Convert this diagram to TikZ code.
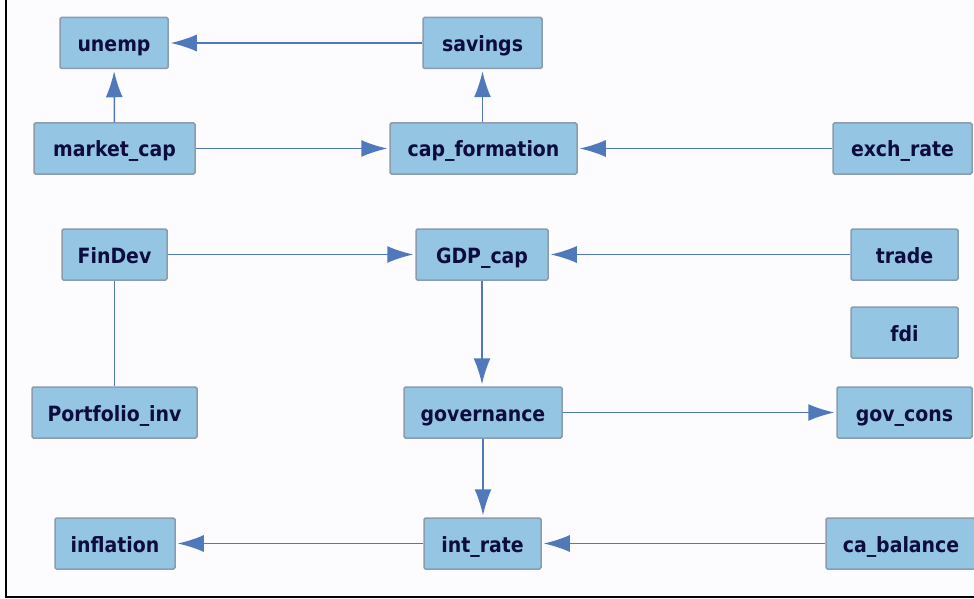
\documentclass[tikz,border=0pt]{standalone}
\usepackage{fontspec}
\newfontfamily\nodefont{DejaVu Sans Condensed}[BoldFont={* Bold}]
\usetikzlibrary{arrows.meta}
\definecolor{bgc}{HTML}{FCFCFE}
\definecolor{nfill}{HTML}{94C6E3}
\definecolor{nedge}{HTML}{8C9CAC}
\definecolor{lnc}{HTML}{5079BB}
\definecolor{txc}{HTML}{0C0C3E}
\tikzset{
  box/.style={draw=nedge, line width=1.5pt, fill=nfill, rounded corners=1.5pt,
    minimum height=51pt, inner sep=0pt, text height=20pt, text depth=3pt,
    text=txc, font=\nodefont\bfseries\fontsize{21}{22}\selectfont},
  arr/.style={draw=lnc, line width=1.5pt, -{Latex[length=26pt,width=17pt]}, shorten >=2pt},
  lnk/.style={draw=lnc, line width=1.5pt}
}
\begin{document}
\begin{tikzpicture}[x=1pt,y=-1pt]
\fill[bgc] (0,0) rectangle (974,599);
\useasboundingbox (0,0) rectangle (974,599);
\draw[black, line width=2pt] (6,0) -- (6,597) -- (974,597);
\node[box, minimum width=108pt] (unemp) at (114,43) {unemp};
\node[box, minimum width=119pt] (savings) at (482.5,43) {savings};
\node[box, minimum width=161pt] (market) at (114.5,148.5) {market\_cap};
\node[box, minimum width=187pt] (capf) at (483.5,148.5) {cap\_formation};
\node[box, minimum width=139pt] (exch) at (902.5,148.5) {exch\_rate};
\node[box, minimum width=105pt] (findev) at (114.5,254.5) {FinDev};
\node[box, minimum width=132pt] (gdp) at (482,254.5) {GDP\_cap};
\node[box, minimum width=107pt] (trade) at (904.5,254.5) {trade};
\node[box, minimum width=107pt] (fdi) at (904.5,332.5) {fdi};
\node[box, minimum width=165pt] (port) at (114.5,412.5) {Portfolio\_inv};
\node[box, minimum width=158pt] (gov) at (483,412.5) {governance};
\node[box, minimum width=135pt] (govc) at (904.5,412.5) {gov\_cons};
\node[box, minimum width=120pt] (infl) at (115,543.5) {inflation};
\node[box, minimum width=117pt] (intr) at (482.5,543.5) {int\_rate};
\node[box, minimum width=150pt] (cab) at (901,543.5) {ca\_balance};
\draw[arr] (savings) -- (unemp);
\draw[arr] (market) -- (unemp);
\draw[arr] (market) -- (capf);
\draw[arr] (capf.north -| savings) -- (savings);
\draw[arr] (exch) -- (capf);
\draw[arr] (findev) -- (gdp);
\draw[arr] (trade) -- (gdp);
\draw[lnk] (findev) -- (port);
\draw[arr] (gdp) -- (gdp |- gov.north);
\draw[arr] (gov) -- (govc);
\draw[arr] (gov) -- (gov |- intr.north);
\draw[arr] (intr) -- (infl);
\draw[arr] (cab) -- (intr);
\end{tikzpicture}
\end{document}
